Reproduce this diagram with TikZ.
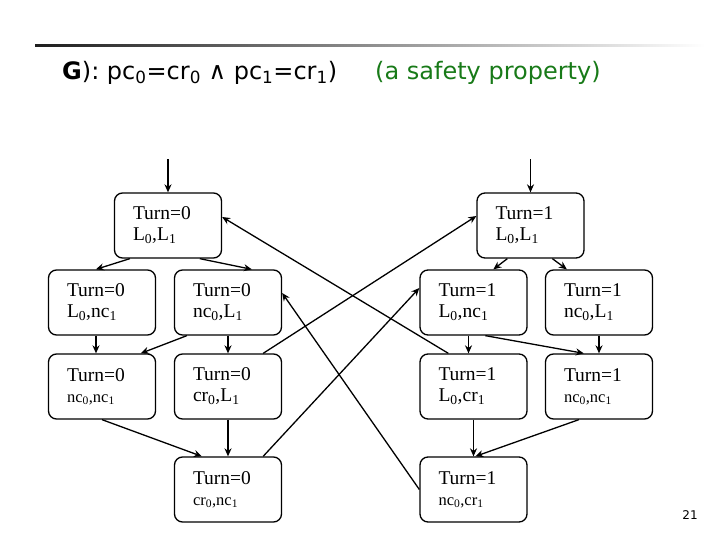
\documentclass[tikz,border=0pt]{standalone}
\usepackage{fontspec}
\setmainfont{Liberation Serif}
\newfontfamily\titlefont{DejaVu Sans}
\usetikzlibrary{positioning,arrows.meta}
\definecolor{safegreen}{RGB}{24,122,24}
\definecolor{bardark}{RGB}{30,30,30}
\newcommand{\lowi}[1]{\textsubscript{#1}}
\newcommand{\pairsm}{\fontsize{16.5}{21}\selectfont}

\tikzset{
	st/.style={draw,rounded corners=8pt,line width=1.3pt,minimum width=107pt,minimum height=65pt,
		text width=70pt,inner xsep=18.5pt,align=left,font=\fontsize{19.5}{21}\selectfont},
	tr/.style={->,line width=1.3pt,>={Stealth[length=8pt,width=7pt]}},
	ttl/.style={anchor=base west,inner sep=0pt,font=\titlefont\fontsize{24}{28}\selectfont}
}

\begin{document}
\begin{tikzpicture}[x=1pt,y=-1pt,on grid]
			\useasboundingbox (0,0) rectangle (720,540);
			\shade[left color=bardark,right color=white] (35,44.5) rectangle (705,47);
			\node[ttl] (prop0) at (62,80) {\textbf{G}): pc\lowi{0}=cr\lowi{0} ∧ pc\lowi{1}=cr\lowi{1})};
			\node[ttl,text=safegreen] (prop1) at (375,80) {(a safety property)};
			\node[font=\titlefont\fontsize{12}{14}\selectfont] (page) at (690,515.5) {21};
			% turn = 0
			\node[st] (t0LL) at (168,225.5) {Turn=0\\ L\lowi{0},L\lowi{1}};
			\coordinate (in0) at ([yshift=33pt]t0LL.north);
				\draw[tr] (in0) -- (t0LL.north);
			\node[st] (t0Lnc) [below left=77pt and 66pt of t0LL] {Turn=0\\ L\lowi{0},nc\lowi{1}};
				\draw[tr] ([xshift=16pt]t0LL.south west) -- ([xshift=48pt]t0Lnc.north west);
			\node[st] (t0ncL) [right=126pt of t0Lnc] {Turn=0\\ nc\lowi{0},L\lowi{1}};
				\draw[tr] ([xshift=86pt]t0LL.south west) -- ([xshift=78pt]t0ncL.north west);
			\node[st] (t0ncnc) [below=84pt of t0Lnc] {Turn=0\\ {\pairsm nc\lowi{0},nc\lowi{1}}};
				\draw[tr] ([xshift=-6pt]t0Lnc.south) -- ([xshift=-6pt]t0ncnc.north);
				\draw[tr] ([xshift=13pt]t0ncL.south west) -- ([xshift=93pt]t0ncnc.north west);
			\node[st] (t0crL) [below=84pt of t0ncL] {Turn=0\\ cr\lowi{0},L\lowi{1}};
				\draw[tr] (t0ncL) -- (t0crL);
			\node[st] (t0crnc) [below=103pt of t0crL] {Turn=0\\ {\pairsm cr\lowi{0},nc\lowi{1}}};
				\draw[tr] (t0crL) -- (t0crnc);
				\draw[tr] (t0ncnc.south) -- ([xshift=28pt]t0crnc.north west);
			% turn = 1
			\node[st] (t1LL) at (530.5,225.5) {Turn=1\\ L\lowi{0},L\lowi{1}};
			\coordinate (in1) at ([yshift=33pt]t1LL.north);
				\draw[tr] (in1) -- (t1LL.north);
			\node[st] (t1Lnc) [below left=77pt and 57pt of t1LL] {Turn=1\\ L\lowi{0},nc\lowi{1}};
				\draw[tr] ([xshift=31pt]t1LL.south west) -- ([xshift=74pt]t1Lnc.north west);
			\node[st] (t1ncL) [right=125.5pt of t1Lnc] {Turn=1\\ nc\lowi{0},L\lowi{1}};
				\draw[tr] ([xshift=76pt]t1LL.south west) -- ([xshift=22pt]t1ncL.north west);
			\node[st] (t1Lcr) [below=84pt of t1Lnc] {Turn=1\\ L\lowi{0},cr\lowi{1}};
				\draw[tr] ([xshift=-5pt]t1Lnc.south) -- ([xshift=-5pt]t1Lcr.north);
			\node[st] (t1ncnc) [below=84pt of t1ncL] {Turn=1\\ {\pairsm nc\lowi{0},nc\lowi{1}}};
				\draw[tr] (t1ncL) -- (t1ncnc);
				\draw[tr] ([xshift=66pt]t1Lnc.south west) -- ([xshift=39pt]t1ncnc.north west);
			\node[st] (t1nccr) [below=103pt of t1Lcr] {Turn=1\\ {\pairsm nc\lowi{0},cr\lowi{1}}};
				\draw[tr] (t1Lcr.south) -- (t1Lcr.south |- t1nccr.north);
				\draw[tr] ([xshift=34pt]t1ncnc.south west) -- ([xshift=56pt]t1nccr.north west);
			% across
				\draw[tr] ([xshift=-19pt]t0crnc.north east) -- ([yshift=14.5pt]t1Lnc.west);
				\draw[tr] ([xshift=-19pt]t0crL.north east) -- ([yshift=9.5pt]t1LL.west);
				\draw[tr] ([xshift=29pt]t1Lcr.north west) -- ([yshift=8.5pt]t0LL.east);
				\draw[tr] (t1nccr.west) -- ([yshift=9.5pt]t0ncL.east);
\end{tikzpicture}
\end{document}
